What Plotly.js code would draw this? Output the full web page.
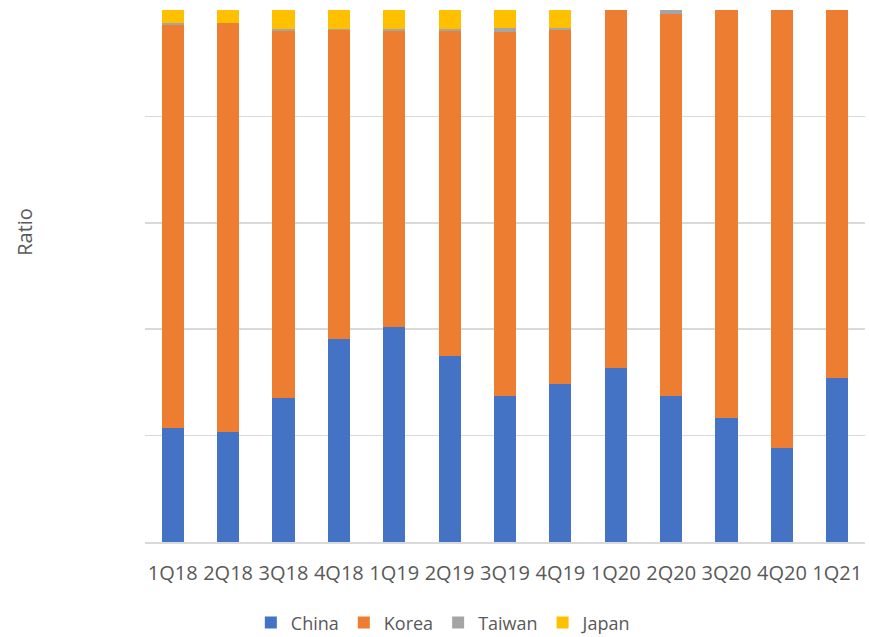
<!DOCTYPE html>
<html>
<head>
<meta charset="utf-8">
<script src="https://cdn.plot.ly/plotly-3.0.1.min.js"></script>
<style>html,body{margin:0;padding:0;background:#fff;}#chart{width:869px;height:637px;}</style>
</head>
<body>
<div id="chart"></div>
<script>
const quarters = ["1Q18","2Q18","3Q18","4Q18","1Q19","2Q19","3Q19","4Q19","1Q20","2Q20","3Q20","4Q20","1Q21"];
const china  = [0.214,0.207,0.271,0.382,0.404,0.350,0.274,0.297,0.327,0.274,0.233,0.177,0.308];
const taiwan = [0.005,0.001,0.004,0.001,0.004,0.004,0.0075,0.0045,0,0.0075,0,0,0];
const japan  = [0.024,0.024,0.036,0.036,0.036,0.036,0.033,0.033,0,0,0,0,0];
const korea  = china.map((c,i)=>+(1-c-taiwan[i]-japan[i]).toFixed(4));

const colors = {China:"#4472C4",Korea:"#ED7D31",Taiwan:"#A5A5A5",Japan:"#FFC000"};
const series = [["China",china],["Korea",korea],["Taiwan",taiwan],["Japan",japan]];
const traces = series.map(([name,vals])=>({
  type:"bar", name:name, x:quarters, y:vals,
  marker:{color:colors[name], line:{width:0}},
  hovertemplate:"%{x}: %{y:.1%}<extra>"+name+"</extra>"
}));

const fontFam = "'Open Sans', sans-serif";
const layout = {
  width:869, height:637,
  margin:{l:145, r:4, t:10, b:95, autoexpand:false},
  barmode:"stack", bargap:0.6,
  paper_bgcolor:"#fff", plot_bgcolor:"#fff",
  font:{family:fontFam, size:20, color:"#595959"},
  xaxis:{type:"category", showline:true, linecolor:"#d9d9d9", linewidth:1.5,
         ticks:"", ticklabelstandoff:12, tickfont:{size:20, color:"#595959"}, showgrid:false, automargin:false},
  yaxis:{range:[0,1], dtick:0.2, showticklabels:false, showgrid:true, automargin:false,
         gridcolor:"#d9d9d9", gridwidth:1.5, zeroline:false, showline:false, ticks:""},
  annotations:[{text:"Ratio", xref:"paper", yref:"paper", x:-0.1667, y:0.583,
                xanchor:"center", yanchor:"middle", textangle:-90, showarrow:false,
                font:{size:20, color:"#595959"}}],
  legend:{orientation:"h", x:0.147, xanchor:"left", y:-0.152, yanchor:"middle",
          font:{size:18, color:"#595959"}, traceorder:"normal", itemwidth:30},
  showlegend:true
};
Plotly.newPlot("chart", traces, layout, {displayModeBar:false, staticPlot:true});
</script>
</body>
</html>
